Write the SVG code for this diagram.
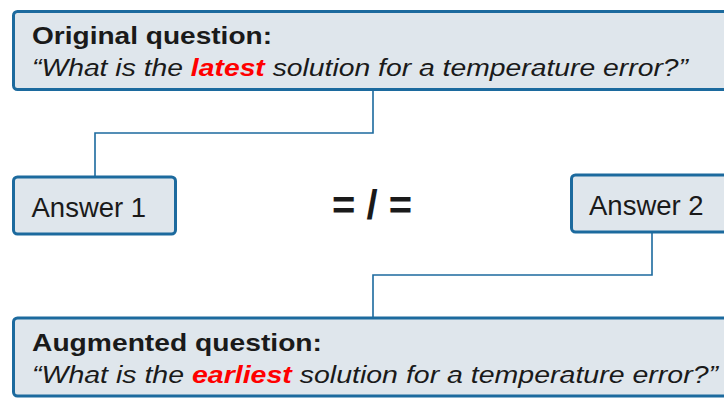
<svg xmlns="http://www.w3.org/2000/svg" width="724" height="398" viewBox="0 0 724 398">
<style>
.box{fill:#dfe6ec;stroke:#1c6a9e;stroke-width:3}
.conn{fill:none;stroke:#1c6a9e;stroke-width:1.6}
.t{font-family:"Liberation Sans",Arial,sans-serif;fill:#1a1a1a}
.h{font-size:24.5px;font-weight:bold}
.q{font-size:24.5px;font-style:italic}
.red{fill:#ff0000;font-weight:bold}
.ans{font-size:27.5px}
</style>
<rect width="724" height="398" fill="#ffffff"/>
<g id="connectors">
<polyline class="conn" points="373,90 373,133 95,133 95,177"/>
<polyline class="conn" points="652,232 652,275 373,275 373,318"/>
</g>
<g id="original">
<rect class="box" x="13.5" y="11.5" width="730" height="78" rx="4"/>
<text class="t h" x="32" y="44" textLength="240" lengthAdjust="spacingAndGlyphs">Original question:</text>
<text class="t q" x="32" y="76" textLength="656" lengthAdjust="spacingAndGlyphs">“What is the <tspan class="red">latest</tspan> solution for a temperature error?”</text>
</g>
<g id="answer1">
<rect class="box" x="13.5" y="177" width="162" height="57" rx="4"/>
<text class="t ans" x="31.5" y="216.5">Answer 1</text>
</g>
<g id="neq">
<text class="t" x="372" y="219" text-anchor="middle" font-size="40" font-weight="bold">= / =</text>
</g>
<g id="answer2">
<rect class="box" x="571.5" y="175" width="170" height="57" rx="4"/>
<text class="t ans" x="589" y="214.5">Answer 2</text>
</g>
<g id="augmented">
<rect class="box" x="13.5" y="318" width="730" height="78" rx="4"/>
<text class="t h" x="32" y="350.5" textLength="290" lengthAdjust="spacingAndGlyphs">Augmented question:</text>
<text class="t q" x="32" y="382.5" textLength="686" lengthAdjust="spacingAndGlyphs">“What is the <tspan class="red">earliest</tspan> solution for a temperature error?”</text>
</g>
</svg>
